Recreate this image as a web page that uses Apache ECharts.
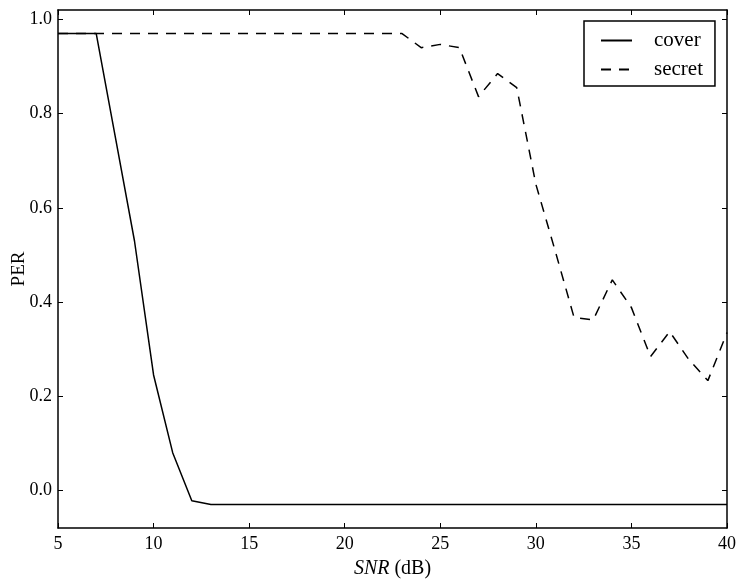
<!DOCTYPE html>
<html>
<head>
<meta charset="utf-8">
<script src="https://cdn.jsdelivr.net/npm/echarts@6/dist/echarts.min.js"></script>
<style>
html,body{margin:0;padding:0;background:#fff;}
#chart{width:747px;height:582px;}
</style>
</head>
<body>
<div id="chart"></div>
<script>
const snr = [5,6,7,8,9,10,11,12,13,14,15,16,17,18,19,20,21,22,23,24,25,26,27,28,29,30,31,32,33,34,35,36,37,38,39,40];
const cover = [0.97,0.97,0.97,0.75,0.53,0.245,0.08,-0.022,-0.03,-0.03,-0.03,-0.03,-0.03,-0.03,-0.03,-0.03,-0.03,-0.03,-0.03,-0.03,-0.03,-0.03,-0.03,-0.03,-0.03,-0.03,-0.03,-0.03,-0.03,-0.03,-0.03,-0.03,-0.03,-0.03,-0.03,-0.03];
const secret = [0.97,0.97,0.97,0.97,0.97,0.97,0.97,0.97,0.97,0.97,0.97,0.97,0.97,0.97,0.97,0.97,0.97,0.97,0.97,0.94,0.947,0.94,0.836,0.885,0.855,0.65,0.51,0.367,0.362,0.447,0.388,0.284,0.337,0.278,0.233,0.335];
const yTicks = [0.0,0.2,0.4,0.6,0.8,1.0];
const xTicks = [5,10,15,20,25,30,35,40];

const FONT = '"Liberation Serif", "DejaVu Serif", serif';
const chart = echarts.init(document.getElementById('chart'), null, {renderer:'canvas'});

const axisLine = {show:true, onZero:false, lineStyle:{color:'#000', width:1.5}};
const tick = {show:true, inside:true, length:5, lineStyle:{color:'#000', width:1}};

function xAxisDef(pos, labels){
  return {
    type:'value', position:pos, min:5, max:40, interval:5,
    axisLine:axisLine,
    axisTick:Object.assign({}, tick),
    axisLabel:{show:labels, margin:7, color:'#000', fontFamily:FONT, fontSize:18},
    splitLine:{show:false}
  };
}
function yAxisDef(pos, labels){
  return {
    type:'value', position:pos, min:-0.08, max:1.02,
    axisLine:axisLine,
    axisTick:Object.assign({customValues:yTicks}, tick),
    axisLabel:{show:labels, customValues:yTicks, margin:6, color:'#000', fontFamily:FONT, fontSize:18,
      formatter:function(v){return v.toFixed(1);}},
    splitLine:{show:false}
  };
}

const xMain = xAxisDef('bottom', true);
xMain.name = '{i|SNR} (dB)';
xMain.nameLocation = 'middle';
xMain.nameGap = 31;
xMain.nameMoveOverlap = false;
xMain.nameTextStyle = {color:'#000', fontFamily:FONT, fontSize:20,
  rich:{i:{fontStyle:'italic', fontFamily:FONT, fontSize:20, color:'#000'}}};
const yMain = yAxisDef('left', true);
yMain.name = 'PER';
yMain.nameLocation = 'middle';
yMain.nameGap = 29.5;
yMain.nameMoveOverlap = false;
yMain.nameTextStyle = {color:'#000', fontFamily:FONT, fontSize:19};

chart.setOption({
  animation:false,
  backgroundColor:'#fff',
  grid:{left:58, right:20, top:10, bottom:54, containLabel:false, outerBoundsMode:'none'},
  legend:{
    orient:'vertical', left:584, top:21,
    padding:[9,12,6,16],
    itemWidth:31, itemHeight:14, itemGap:8,
    borderColor:'#000', borderWidth:1.5, borderRadius:0,
    backgroundColor:'#fff',
    itemStyle:{opacity:0},
    textStyle:{color:'#000', fontFamily:FONT, fontSize:21, lineHeight:20, padding:[0,0,0,17]},
    data:['cover','secret']
  },
  xAxis:[xMain, xAxisDef('top', false)],
  yAxis:[yMain, yAxisDef('right', false)],
  series:[
    {name:'cover', type:'line', xAxisIndex:0, yAxisIndex:0, symbol:'none', showSymbol:false,
      lineStyle:{color:'#000', width:1.5, type:'solid'}, itemStyle:{color:'#000'},
      data:snr.map((x,i)=>[x,cover[i]])},
    {name:'secret', type:'line', xAxisIndex:0, yAxisIndex:0, symbol:'none', showSymbol:false,
      lineStyle:{color:'#000', width:1.5, type:[10,8]}, itemStyle:{color:'#000'},
      data:snr.map((x,i)=>[x,secret[i]])}
  ]
});
</script>
</body>
</html>
